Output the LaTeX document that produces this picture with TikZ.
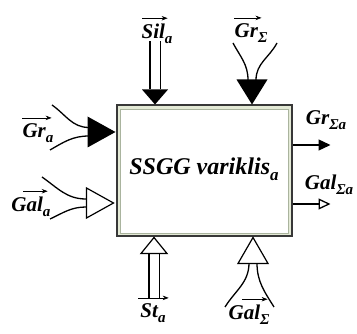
\documentclass[tikz,border=0pt]{standalone}
\usepackage{fontspec}
\setmainfont{Liberation Serif}
\usetikzlibrary{arrows.meta}
\newcommand{\lsub}[1]{\raisebox{-0.22em}{\fontsize{15}{15}\selectfont #1}}
\newcommand{\tsub}[1]{\raisebox{-0.22em}{\fontsize{17}{17}\selectfont #1}}
\tikzset{
  lbl/.style={font=\fontsize{21}{21}\selectfont\bfseries\itshape, inner sep=0pt, anchor=base},
  ovar/.style={-{Stealth[length=6pt,width=4.5pt]}, line width=0.7pt},
  dbl/.style={double, double distance=9pt, line width=1.4pt},
  feed/.style={line width=1.3pt},
  solidtri/.style={fill=black},
  opentri/.style={draw=black, fill=white, line width=1.2pt, line join=miter},
}
\begin{document}
\begin{tikzpicture}[x=1pt,y=-1pt]
\useasboundingbox (0,0) rectangle (357,334);
% main block
\node[draw=black!78, line width=2pt, fill={rgb,255:red,228;green,234;blue,214},
      minimum width=175pt, minimum height=131pt, inner sep=0pt] (box) at (204,171) {};
\draw[draw={rgb,255:red,170;green,180;blue,158}, line width=0.9pt, fill=white]
  ([shift={(4.5,4.5)}]box.north west) rectangle ([shift={(-4.5,-4.5)}]box.south east);
\node[font=\fontsize{24}{24}\selectfont\bfseries\itshape, inner sep=0pt, anchor=base] (title) at (204,175) {SSGG variklis\tsub{a}};

% x positions
\coordinate (silx) at (155,0);
\coordinate (grSx) at (252,0);
\coordinate (stx) at (154,0);
\coordinate (galSx) at (253,0);
\coordinate (gray) at (0,132);
\coordinate (galay) at (0,203);
\coordinate (grSay) at (0,145);
\coordinate (galSay) at (0,204);

% Sil_a (top, double line, solid head)
\coordinate (silT) at (box.north -| silx);
\draw[dbl] (silT) ++(0,-63) -- ++(0,48);
\fill[solidtri] (silT) -- ++(-13,-15) -- ++(26,0) -- cycle;
\node[lbl] (silL) at (157,39) {Sil\lsub{a}};
\draw[ovar] ([shift={(1,-6)}]silL.north west) -- ([shift={(-5,-6)}]silL.north east);

% Gr_Sigma (top, funnel, big solid head)
\coordinate (grST) at (box.north -| grSx);
\coordinate (grSa) at (233,43);
\coordinate (grSb) at (277,43);
\coordinate (grSc) at (248,80);
\coordinate (grSd) at (256,80);
\draw[feed] (grSa) to[out=-62,in=90] (grSc);
\draw[feed] (grSb) to[out=-118,in=90] (grSd);
\fill[solidtri] (grST) -- ++(-15.5,-25) -- ++(31,0) -- cycle;
\node[lbl] (grSL) at (251,38) {Gr\lsub{Σ}};
\draw[ovar] ([shift={(0,-6)}]grSL.north west) -- ([shift={(-6,-6)}]grSL.north east);

% Gr_a (left, funnel, solid head)
\coordinate (graT) at (box.west |- gray);
\coordinate (graA) at (52,105);
\coordinate (graB) at (50,150);
\coordinate (graC) at (89,127.5);
\coordinate (graD) at (89,136);
\draw[feed] (graA) to[out=-35,in=180] (graC);
\draw[feed] (graB) to[out=30,in=180] (graD);
\fill[solidtri] (graT) -- ++(-28,-15.5) -- ++(0,31) -- cycle;
\node[lbl] (graL) at (38,138) {Gr\lsub{a}};
\draw[ovar] ([shift={(0,-6)}]graL.north west) -- ([shift={(-2,-6)}]graL.north east);

% Gal_a (left, funnel, open head)
\coordinate (galaT) at ([xshift=-2pt]box.west |- galay);
\coordinate (galaA) at (42,177);
\coordinate (galaB) at (50,219);
\coordinate (galaC) at (86,199);
\coordinate (galaD) at (86,207);
\draw[feed] (galaA) to[out=-35,in=180] (galaC);
\draw[feed] (galaB) to[out=25,in=180] (galaD);
\draw[opentri] (galaT) -- ++(-27,-15) -- ++(0,30) -- cycle;
\node[lbl] (galaL) at (31,212) {Gal\lsub{a}};
\draw[ovar] ([shift={(12,-6)}]galaL.north west) -- ([shift={(-3,-6)}]galaL.north east);

% outputs (right)
\draw[line width=1.3pt, -{Triangle[length=12pt,width=11pt]}] (box.east |- grSay) -- ++(38,0) coordinate (grSaE);
\node[lbl] (grSaL) at (326,125) {Gr\lsub{Σa}};
\draw[line width=1.3pt, -{Triangle[open,length=12pt,width=11pt]}] (box.east |- galSay) -- ++(38,0) coordinate (galSaE);
\node[lbl] (galSaL) at (329,190) {Gal\lsub{Σa}};

% St_a (bottom, double line, open head)
\coordinate (stT) at (box.south -| stx);
\draw[dbl] (stT) ++(0,16) -- ++(0,46);
\draw[opentri] (stT) -- ++(-13,16) -- ++(26,0) -- cycle;
\node[lbl] (stL) at (153,318) {St\lsub{a}};
\draw[ovar] ([shift={(-2,-6)}]stL.north west) -- ([shift={(3,-6)}]stL.north east);

% Gal_Sigma (bottom, funnel, big open head)
\coordinate (galST) at (box.south -| galSx);
\coordinate (galSa) at (225,307);
\coordinate (galSb) at (274,307);
\coordinate (galSc) at (249,263);
\coordinate (galSd) at (257,263);
\draw[feed] (galSa) to[out=58,in=-90] (galSc);
\draw[feed] (galSb) to[out=122,in=-90] (galSd);
\draw[opentri] (galST) -- ++(-15,26) -- ++(30,0) -- cycle;
\node[lbl] (galSL) at (249,320) {Gal\lsub{Σ}};
\draw[ovar] ([shift={(14,-6)}]galSL.north west) -- ([shift={(-2,-6)}]galSL.north east);
\end{tikzpicture}
\end{document}
